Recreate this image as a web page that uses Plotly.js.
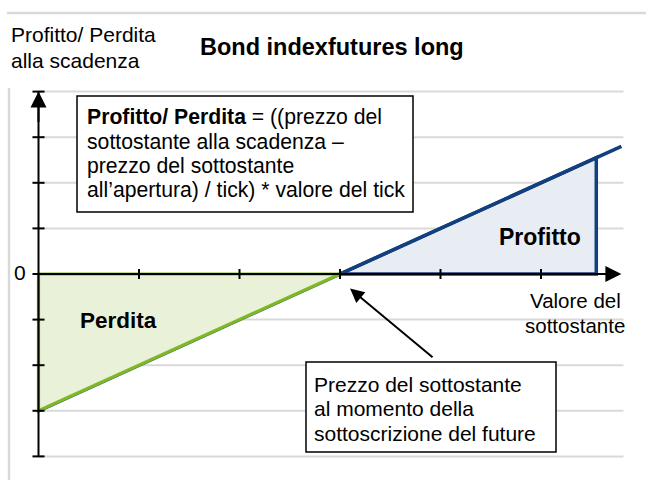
<!DOCTYPE html>
<html>
<head>
<meta charset="utf-8">
<script src="https://cdn.plot.ly/plotly-3.0.1.min.js"></script>
<style>html,body{margin:0;padding:0;background:#fff;}#chart{width:646px;height:480px;}</style>
</head>
<body>
<div id="chart"></div>
<script>
// ---- data ----
const payoffX = [0, 3, 5.8];
const payoffY = [-3, 0, 2.8];
const lossX = [0, 0, 3, 0];
const lossY = [0, -3, 0, 0];
const profitX = [3, 5.55, 5.55, 3];
const profitY = [0, 0, 2.55, 0];
const strikeX = 3;
const xTicks = [1, 2, 3, 4, 5];
const yTicks = [-4, -3, -2, -1, 1, 2, 3, 4];
const xAxisEnd = 5.8;
const gridEnd = 5.82;
const titleText = "Bond indexfutures long";
const yTitleLines = ["Profitto/ Perdita", "alla scadenza"];
const xTitleLines = ["Valore del", "sottostante"];
const formulaLines = ["<b>Profitto/ Perdita</b> = ((prezzo del", "sottostante alla scadenza –", "prezzo del sottostante", "all’apertura) / tick) * valore del tick"];
const noteLines = ["Prezzo del sottostante", "al momento della", "sottoscrizione del future"];
const lossLabel = "Perdita";
const profitLabel = "Profitto";

// ---- helpers ----
const W = 646, H = 480;
const PX = x => x / W;
const PY = y => 1 - y / H;
const FONT = "Liberation Sans, Arial, sans-serif";
const GREEN = "#80b825", GREEN_FILL = "#e9f1d9";
const BLUE = "#123f7e", BLUE_FILL = "#e8ecf3";
const GRID = "#d9d9d9";

const traces = [
  {x: profitX, y: profitY, mode: "lines", fill: "toself", fillcolor: BLUE_FILL,
   line: {color: BLUE, width: 3.5}, hoverinfo: "skip", showlegend: false},
  {x: payoffX, y: payoffY, mode: "lines", line: {color: BLUE, width: 3.5},
   hoverinfo: "skip", showlegend: false},
  {x: lossX, y: lossY, mode: "lines", fill: "toself", fillcolor: GREEN_FILL,
   line: {color: GREEN, width: 3.2}, hoverinfo: "skip", showlegend: false}
];

const shapes = [];
// frame lines
shapes.push({type: "line", xref: "paper", yref: "paper", x0: PX(7), x1: PX(646), y0: PY(13), y1: PY(13), line: {color: GRID, width: 2.5}, layer: "below"});
shapes.push({type: "line", xref: "paper", yref: "paper", x0: PX(9), x1: PX(9), y0: PY(88), y1: PY(480), line: {color: GRID, width: 2.5}, layer: "below"});
// gridlines
yTicks.forEach(v => shapes.push({type: "line", xref: "x", yref: "y", x0: 0, x1: gridEnd, y0: v, y1: v, line: {color: GRID, width: 2}, layer: "below"}));
// y axis
shapes.push({type: "line", xref: "x", yref: "y", x0: 0, x1: 0, y0: yTicks[0], y1: yTicks[yTicks.length - 1], line: {color: "#000", width: 2}});
yTicks.forEach(v => shapes.push({type: "line", xref: "x", yref: "y", x0: -0.06, x1: 0.06, y0: v, y1: v, line: {color: "#000", width: 2}}));
shapes.push({type: "line", xref: "x", yref: "y", x0: -0.06, x1: 0, y0: 0, y1: 0, line: {color: "#000", width: 2}});
// x axis
shapes.push({type: "line", xref: "x", yref: "y", x0: 0, x1: xAxisEnd - 0.05, y0: 0, y1: 0, line: {color: "#000", width: 2}});
xTicks.forEach(v => shapes.push({type: "line", xref: "x", yref: "y", x0: v, x1: v, y0: -0.11, y1: 0.11, line: {color: "#000", width: 2}}));
// text boxes
shapes.push({type: "rect", xref: "paper", yref: "paper", x0: PX(77), x1: PX(413), y0: PY(96), y1: PY(212), fillcolor: "#fff", line: {color: "#000", width: 1.5}});
shapes.push({type: "rect", xref: "paper", yref: "paper", x0: PX(306), x1: PX(556), y0: PY(362), y1: PY(452), fillcolor: "#fff", line: {color: "#000", width: 1.5}});

const ann = [];
const txt = (text, x, y, size, anchor, bold) => ann.push({
  text: bold ? "<b>" + text + "</b>" : text, xref: "paper", yref: "paper",
  x: PX(x), y: PY(y), xanchor: anchor, yanchor: "middle", showarrow: false,
  font: {family: FONT, size: size, color: "#000"}, align: anchor === "center" ? "center" : "left"
});
txt(titleText, 332, 47, 23.5, "center", true);
txt(yTitleLines[0], 9, 35, 21, "left", false);
txt(yTitleLines[1], 9, 60, 21, "left", false);
txt("0", 20, 272, 21, "center", false);
formulaLines.forEach((l, i) => txt(l, 85, 117 + i * 24.3, 21.2, "left", false));
noteLines.forEach((l, i) => txt(l, 312, 384 + i * 24.5, 21, "left", false));
txt(xTitleLines[0], 575, 300, 20.5, "center", false);
txt(xTitleLines[1], 575, 325, 20.5, "center", false);
txt(lossLabel, 78, 320, 22.5, "left", true);
txt(profitLabel, 540, 237, 23, "center", true);
// axis arrows
ann.push({x: 0, y: yTicks[yTicks.length - 1], xref: "x", yref: "y", ax: 0, ay: 3.3, axref: "x", ayref: "y", showarrow: true, arrowhead: 2, arrowsize: 1.6, arrowwidth: 2, arrowcolor: "#000", text: ""});
ann.push({x: xAxisEnd, y: 0, xref: "x", yref: "y", ax: 5.3, ay: 0, axref: "x", ayref: "y", showarrow: true, arrowhead: 2, arrowsize: 1.6, arrowwidth: 2, arrowcolor: "#000", text: ""});
// pointer arrow to strike
ann.push({x: strikeX + 0.1, y: -0.32, xref: "x", yref: "y", ax: 84, ay: 70, showarrow: true, arrowhead: 2, arrowsize: 1.4, arrowwidth: 2, arrowcolor: "#000", text: ""});

const layout = {
  width: W, height: H, margin: {l: 0, r: 0, t: 0, b: 0},
  paper_bgcolor: "#fff", plot_bgcolor: "rgba(0,0,0,0)",
  xaxis: {range: [-38.5 / 100.5, (W - 38.5) / 100.5], visible: false, fixedrange: true},
  yaxis: {range: [-(H - 274) / 45.6, 274 / 45.6], visible: false, fixedrange: true},
  shapes: shapes, annotations: ann, showlegend: false
};
Plotly.newPlot("chart", traces, layout, {staticPlot: true});
</script>
</body>
</html>
